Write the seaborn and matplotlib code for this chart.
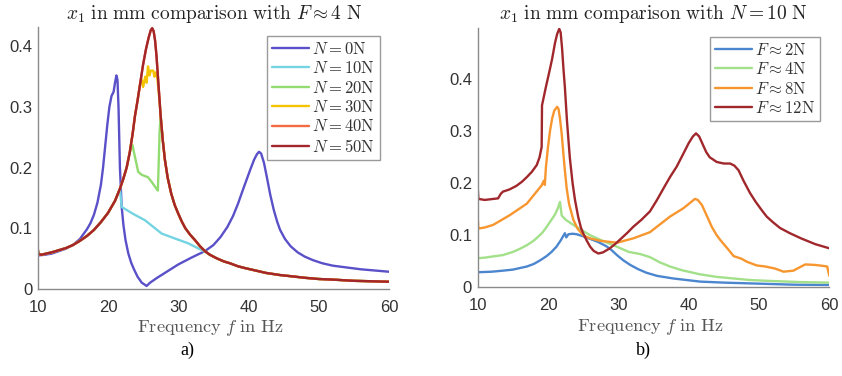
import matplotlib
matplotlib.use("Agg")
import matplotlib.pyplot as plt
from matplotlib.lines import Line2D
import pandas as pd
import seaborn as sns

# ---------------- data ----------------
# Panel a) : F ~ 4 N, varying N
f_n50 = [10, 10, 10.1, 10.5, 12, 14, 15, 16, 17, 18, 19, 20, 21, 21.7, 22.2, 22.66, 23.1, 23.5, 23.84,
         24.2, 24.6, 25.0, 25.4, 25.8, 26.1, 26.3, 26.5, 26.7, 26.9, 27.2, 27.5, 27.8, 28.1, 28.5, 29,
         29.5, 30, 30.5, 31, 31.7, 32.4, 33.1, 33.8, 34.5, 35.5, 36.5, 37.35, 38.5, 39.5, 41, 42.5,
         44.5, 46.5, 48, 50, 52, 55, 60]
x_n50 = [0, 0.066, 0.057, 0.056, 0.06, 0.067, 0.072, 0.079, 0.087, 0.097, 0.11, 0.125, 0.145, 0.165,
         0.182, 0.2, 0.225, 0.255, 0.285, 0.31, 0.34, 0.37, 0.395, 0.415, 0.427, 0.43, 0.425, 0.41,
         0.385, 0.335, 0.285, 0.245, 0.213, 0.183, 0.157, 0.138, 0.124, 0.111, 0.1, 0.089, 0.08, 0.07,
         0.062, 0.056, 0.05, 0.045, 0.042, 0.037, 0.034, 0.03, 0.026, 0.0225, 0.02, 0.018, 0.016,
         0.015, 0.013, 0.0115]

f_n0 = [10, 10, 10.1, 11, 12, 13, 14, 15, 16, 16.5, 17, 17.5, 18, 18.5, 19, 19.3, 19.6, 19.9, 20.2,
        20.5, 20.8, 21.0, 21.2, 21.35, 21.5, 21.7, 21.95, 22.2, 22.5, 22.9, 23.3, 23.7, 24.2, 24.8,
        25.5, 26, 27, 28.5, 30, 32, 33.8, 35, 36, 37, 37.8, 38.5, 39.2, 39.7, 40.3, 40.8, 41.2, 41.5,
        41.8, 42.2, 42.6, 43.1, 43.6, 44.1, 44.5, 45.2, 46, 47, 48, 49.2, 50.5, 52, 54, 56, 58, 60]
x_n0 = [0, 0.066, 0.055, 0.056, 0.058, 0.062, 0.066, 0.072, 0.082, 0.09, 0.098, 0.108, 0.122, 0.142,
        0.172, 0.2, 0.235, 0.27, 0.3, 0.318, 0.325, 0.34, 0.352, 0.345, 0.3, 0.2, 0.135, 0.105, 0.08,
        0.058, 0.043, 0.032, 0.02, 0.01, 0.0045, 0.01, 0.018, 0.029, 0.04, 0.052, 0.062, 0.072, 0.085,
        0.102, 0.12, 0.14, 0.163, 0.179, 0.198, 0.213, 0.222, 0.226, 0.223, 0.208, 0.185, 0.155, 0.13,
        0.11, 0.097, 0.082, 0.07, 0.06, 0.053, 0.047, 0.042, 0.038, 0.035, 0.032, 0.03, 0.028]

# deviations of N = 10, 20, 30 N from the N = 50 N curve
f_n10_dev = [21.95, 23.5, 25.26, 27.64, 29.5, 31.4, 33.8, 34.75]
x_n10_dev = [0.135, 0.124, 0.113, 0.091, 0.083, 0.075, 0.061, 0.055]
f_n20_dev = [23.5, 23.7, 24.3, 24.8, 25.7, 26.3, 26.9, 27.1, 27.2, 27.35]
x_n20_dev = [0.237, 0.225, 0.193, 0.188, 0.184, 0.175, 0.165, 0.162, 0.2, 0.26]
f_n30_dev = [24.8, 25.0, 25.3, 25.5, 25.7, 25.9, 26.1, 26.45, 26.6, 26.8, 27.0, 27.15, 27.4]
x_n30_dev = [0.345, 0.333, 0.35, 0.34, 0.367, 0.352, 0.36, 0.36, 0.35, 0.357, 0.35, 0.333, 0.3]

# Panel b) : N = 10 N, varying F
f_f12 = [10, 10, 10.1, 11, 12.9, 13.3, 13.6, 14.5, 15.5, 16.3, 17, 17.7, 18.4, 18.8, 19.1, 19.15,
         19.7, 20.2, 20.6, 21.0, 21.3, 21.6, 21.8, 22.0, 22.2, 22.4, 22.7, 23.1, 23.5, 23.84, 24.3,
         24.7, 25, 25.5, 26, 26.5, 27.15, 27.8, 28.8, 29.7, 30.5, 31.3, 32.1, 33.3, 34.5, 35.5, 36.5,
         37.35, 38.3, 39.25, 40, 40.6, 41.05, 41.5, 42, 42.5, 43, 44, 45, 45.9, 46.5, 47.1, 47.8, 48.7,
         49.5, 50.3, 51.1, 52, 53, 54.4, 56, 58, 60]
x_f12 = [0, 0.193, 0.17, 0.168, 0.171, 0.18, 0.184, 0.188, 0.195, 0.203, 0.212, 0.222, 0.235, 0.25,
         0.27, 0.35, 0.385, 0.415, 0.44, 0.47, 0.487, 0.497, 0.49, 0.46, 0.42, 0.385, 0.32, 0.25, 0.2,
         0.168, 0.135, 0.114, 0.104, 0.09, 0.078, 0.07, 0.065, 0.067, 0.075, 0.085, 0.095, 0.105,
         0.116, 0.13, 0.146, 0.168, 0.192, 0.212, 0.232, 0.257, 0.277, 0.29, 0.296, 0.29, 0.275, 0.26,
         0.25, 0.241, 0.238, 0.238, 0.234, 0.225, 0.205, 0.182, 0.165, 0.15, 0.136, 0.125, 0.114,
         0.104, 0.094, 0.083, 0.075]

f_f8 = [10, 10, 10.1, 11, 12.2, 14.6, 17, 19.1, 19.4, 19.55, 19.7, 20.0, 20.3, 20.6, 20.9, 21.3, 21.5,
        21.7, 21.95, 22.2, 22.4, 22.66, 23.0, 23.6, 24.2, 25, 26, 27.4, 29.8, 32.1, 34.5, 37.35, 39.25,
        40.9, 41.3, 41.9, 42.5, 43.3, 44, 44.5, 45.5, 46.4, 47.5, 48.3, 49.7, 50.9, 52.3, 53.5, 54.9,
        56, 56.6, 58, 59.2, 59.7, 60]
x_f8 = [0, 0.135, 0.113, 0.115, 0.12, 0.139, 0.161, 0.196, 0.205, 0.197, 0.23, 0.27, 0.302, 0.325,
        0.34, 0.347, 0.343, 0.325, 0.295, 0.255, 0.225, 0.19, 0.16, 0.13, 0.113, 0.1, 0.094, 0.0895,
        0.0857, 0.094, 0.106, 0.136, 0.152, 0.17, 0.168, 0.158, 0.14, 0.116, 0.1, 0.091, 0.075, 0.06,
        0.055, 0.049, 0.042, 0.04, 0.036, 0.03, 0.032, 0.04, 0.044, 0.043, 0.041, 0.04, 0.022]

f_f4 = [10, 10, 10.1, 11, 12, 13.6, 15, 16, 17, 18, 18.5, 19.2, 19.8, 20.4, 21, 21.4, 21.7, 21.95,
        22.5, 23.6, 26, 28, 29.8, 31.5, 33.1, 34.5, 35.9, 37.35, 39, 41.6, 44, 48.7, 52, 56, 60]
x_f4 = [0, 0.058, 0.056, 0.057, 0.059, 0.062, 0.068, 0.074, 0.081, 0.09, 0.096, 0.105, 0.116, 0.128,
        0.14, 0.152, 0.164, 0.138, 0.13, 0.12, 0.1, 0.088, 0.078, 0.068, 0.064, 0.058, 0.048, 0.04,
        0.033, 0.025, 0.02, 0.014, 0.012, 0.01, 0.009]

f_f2 = [10, 10, 10.1, 12, 13.6, 15, 16, 17, 18, 18.9, 19.8, 20.5, 21.2, 21.8, 22.4, 22.6, 22.9, 23.5,
        24.1, 25, 26, 27, 28.3, 29, 29.8, 30.7, 31.7, 32.8, 34, 35.5, 37.8, 41.6, 45, 50, 55, 60]
x_f2 = [0, 0.03, 0.029, 0.03, 0.032, 0.034, 0.037, 0.04, 0.045, 0.052, 0.06, 0.068, 0.078, 0.09,
        0.104, 0.096, 0.102, 0.103, 0.102, 0.098, 0.093, 0.088, 0.079, 0.072, 0.062, 0.052, 0.043,
        0.035, 0.028, 0.022, 0.017, 0.011, 0.009, 0.007, 0.005, 0.0045]

labels_a = [r"$N = 0\mathrm{N}$", r"$N = 10\mathrm{N}$", r"$N = 20\mathrm{N}$",
            r"$N = 30\mathrm{N}$", r"$N = 40\mathrm{N}$", r"$N = 50\mathrm{N}$"]
labels_b = [r"$F \approx 2\mathrm{N}$", r"$F \approx 4\mathrm{N}$",
            r"$F \approx 8\mathrm{N}$", r"$F \approx 12\mathrm{N}$"]
colors_a = ["#5A50C8", "#74D4E2", "#92DB70", "#F5C400", "#F26B43", "#A3262A"]
colors_b = ["#4C86CF", "#A3E08A", "#F7962F", "#A0282C"]

xticks = [10, 20, 30, 40, 50, 60]
yticks = [0, 0.1, 0.2, 0.3, 0.4]
ytick_labels = ["0", "0.1", "0.2", "0.3", "0.4"]


def merge(base_f, base_x, dev_f, dev_x):
    """Series that follows the base curve, except on the read-off deviation segment."""
    lo, hi = dev_f[0], dev_f[-1]
    f = [v for v in base_f if v < lo] + list(dev_f) + [v for v in base_f if v > hi]
    x = ([x for v, x in zip(base_f, base_x) if v < lo] + list(dev_x)
         + [x for v, x in zip(base_f, base_x) if v > hi])
    return f, x


f_n10, x_n10 = merge(f_n50, x_n50, f_n10_dev, x_n10_dev)
f_n20, x_n20 = merge(f_n50, x_n50, f_n20_dev, x_n20_dev)
f_n30, x_n30 = merge(f_n50, x_n50, f_n30_dev, x_n30_dev)
f_n40, x_n40 = list(f_n50), list(x_n50)

series_a = [(f_n0, x_n0), (f_n10, x_n10), (f_n20, x_n20), (f_n30, x_n30), (f_n40, x_n40),
            (f_n50, x_n50)]
series_b = [(f_f2, x_f2), (f_f4, x_f4), (f_f8, x_f8), (f_f12, x_f12)]

df_a = pd.concat([pd.DataFrame({"f": f, "x1": x, "s": lab})
                  for (f, x), lab in zip(series_a, labels_a)], ignore_index=True)
df_b = pd.concat([pd.DataFrame({"f": f, "x1": x, "s": lab})
                  for (f, x), lab in zip(series_b, labels_b)], ignore_index=True)

# ---------------- styling ----------------
sns.set_style("white")
plt.rcParams["mathtext.fontset"] = "cm"
plt.rcParams["font.family"] = ["Liberation Sans", "DejaVu Sans"]

fig = plt.figure(figsize=(8.42, 3.76), dpi=100)
ax1 = fig.add_axes([0.0448, 0.2322, 0.4172, 0.6960])
ax2 = fig.add_axes([0.5673, 0.2359, 0.4176, 0.6888])

lw = 1.7
sns.lineplot(data=df_a, x="f", y="x1", hue="s", hue_order=labels_a,
             palette=dict(zip(labels_a, colors_a)), estimator=None, sort=False,
             linewidth=lw, legend=False, ax=ax1)
sns.lineplot(data=df_b, x="f", y="x1", hue="s", hue_order=labels_b,
             palette=dict(zip(labels_b, colors_b)), estimator=None, sort=False,
             linewidth=lw, legend=False, ax=ax2)
for ax in (ax1, ax2):
    for ln in ax.get_lines():
        ln.set_solid_joinstyle("round")
        ln.set_solid_capstyle("round")

spine_col = "#8a8a8a"
for ax, ytop in ((ax1, 0.432), (ax2, 0.498)):
    ax.set_xlim(10, 60)
    ax.set_ylim(0, ytop)
    ax.set_xticks(xticks)
    ax.set_xticklabels([str(t) for t in xticks])
    ax.set_yticks(yticks)
    ax.set_yticklabels(ytick_labels)
    for s in ("top", "right"):
        ax.spines[s].set_visible(False)
    for s in ("left", "bottom"):
        ax.spines[s].set_color(spine_col)
        ax.spines[s].set_linewidth(1.0)
    ax.tick_params(direction="in", length=4, width=0.8, color=spine_col,
                   labelcolor="#333333", labelsize=12)
    ax.tick_params(axis="x", pad=8)
    ax.tick_params(axis="y", pad=4)
    ax.set_ylabel("")
    ax.set_xlabel(r"$\mathrm{Frequency}\ f\ \mathrm{in\ Hz}$", fontsize=13.2, color="#555555")
    ax.xaxis.label.set_va("center")
    ax.set_facecolor("white")

ax1.xaxis.set_label_coords(0.4905, -0.152)
ax2.xaxis.set_label_coords(0.491, -0.153)

fig.text(0.2536, 0.963, r"$x_1\ \mathrm{in\ mm\ comparison\ with}\ F \approx 4\ \mathrm{N}$",
         ha="center", va="center", fontsize=14, color="#222222")
fig.text(0.7755, 0.963, r"$x_1\ \mathrm{in\ mm\ comparison\ with}\ N = 10\ \mathrm{N}$",
         ha="center", va="center", fontsize=14, color="#222222")

fig.text(0.222, 0.069, "a)", ha="center", va="center", fontsize=13,
         family=["Liberation Serif", "DejaVu Serif"], color="black")
fig.text(0.7637, 0.069, "b)", ha="center", va="center", fontsize=13,
         family=["Liberation Serif", "DejaVu Serif"], color="black")

handles_a = [Line2D([], [], color=c, lw=lw) for c in colors_a]
handles_b = [Line2D([], [], color=c, lw=lw) for c in colors_b]
for ax, h, lab, anchor in ((ax1, handles_a, labels_a, (380 / 842, 1 - 36 / 376)),
                           (ax2, handles_b, labels_b, (820 / 842, 1 - 37 / 376))):
    leg = ax.legend(h, lab, loc="upper right", bbox_to_anchor=anchor,
                    bbox_transform=fig.transFigure, borderaxespad=0, fontsize=12,
                    frameon=True, fancybox=False, shadow=False, framealpha=1,
                    handlelength=2.2, handletextpad=0.2, labelspacing=0.2,
                    borderpad=0.3)
    leg.get_frame().set_edgecolor("#9a9a9a")
    leg.get_frame().set_linewidth(1.0)
    for t in leg.get_texts():
        t.set_color("#333333")

fig.savefig("out.png", dpi=100, facecolor="white")
